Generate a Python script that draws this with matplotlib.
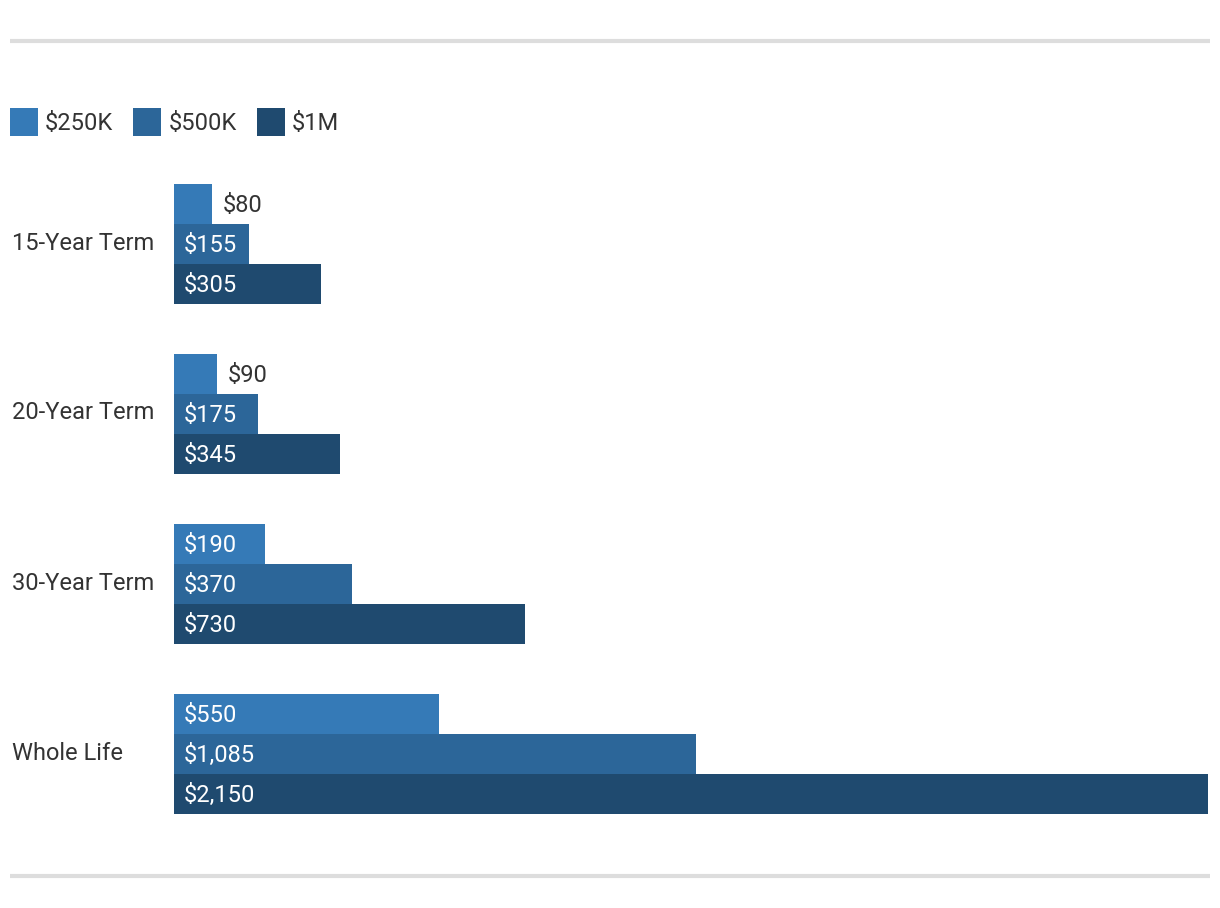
import matplotlib
matplotlib.use("Agg")
import matplotlib.pyplot as plt
from matplotlib.patches import Rectangle
from matplotlib.lines import Line2D

plt.rcParams["font.family"] = ["Roboto", "DejaVu Sans"]

categories = ["15-Year Term", "20-Year Term", "30-Year Term", "Whole Life"]
series_names = ["$250K", "$500K", "$1M"]
values_250k = [80, 90, 190, 550]
values_500k = [155, 175, 370, 1085]
values_1m = [305, 345, 730, 2150]
series_values = [values_250k, values_500k, values_1m]
colors = ["#357ab7", "#2c6699", "#1f4a6f"]

W, H = 1220, 908
FS = 17
fig = plt.figure(figsize=(W / 100, H / 100), dpi=100)


def fx(px):
    return px / W


def fy(py):
    return 1 - py / H


# bar area: x 174..1208 px, y 184..814 px
ax = fig.add_axes([fx(174), fy(814), fx(1208) - fx(174), fy(184) - fy(814)])
bar_h = 40 / 170
n = len(categories)
ax.set_xlim(0, max(values_1m))
ax.set_ylim(n - 1 + 60 / 170, -60 / 170)
ax.axis("off")

fig.canvas.draw()
renderer = fig.canvas.get_renderer()
px_per_unit = (1208 - 174) / max(values_1m)

for s, vals in enumerate(series_values):
    offs = (s - 1) * bar_h
    for i, v in enumerate(vals):
        y = i + offs
        ax.barh(y, v, height=bar_h, color=colors[s], linewidth=0)
        label = f"${v:,}"
        t = ax.text(0, y + 0.006, label, fontsize=FS, va="center", ha="left")
        tw = t.get_window_extent(renderer).width
        if v * px_per_unit > tw + 20:
            t.set_x(10 / px_per_unit)
            t.set_color("white")
        else:
            t.set_x(v + 10 / px_per_unit)
            t.set_color("#333333")

for i, cat in enumerate(categories):
    fig.text(fx(12), fy(183 + 60 + i * 170), cat, fontsize=FS,
             color="#333333", va="center", ha="left")

# legend drawn by hand
x = 10
for name, c in zip(series_names, colors):
    fig.patches.append(Rectangle((fx(x), fy(136)), fx(28), fy(108) - fy(136),
                                 transform=fig.transFigure, color=c, linewidth=0))
    t = fig.text(fx(x + 35), fy(123), name, fontsize=FS, color="#333333",
                 va="center", ha="left")
    tw = t.get_window_extent(renderer).width
    x = x + 35 + tw + 20

# gray rules top and bottom
for py in (41, 876):
    fig.lines.append(Line2D([fx(10), fx(1210)], [fy(py), fy(py)],
                            transform=fig.transFigure, color="#dddddd",
                            linewidth=3, solid_capstyle="butt"))

fig.savefig("out.png", dpi=100, facecolor="white")
